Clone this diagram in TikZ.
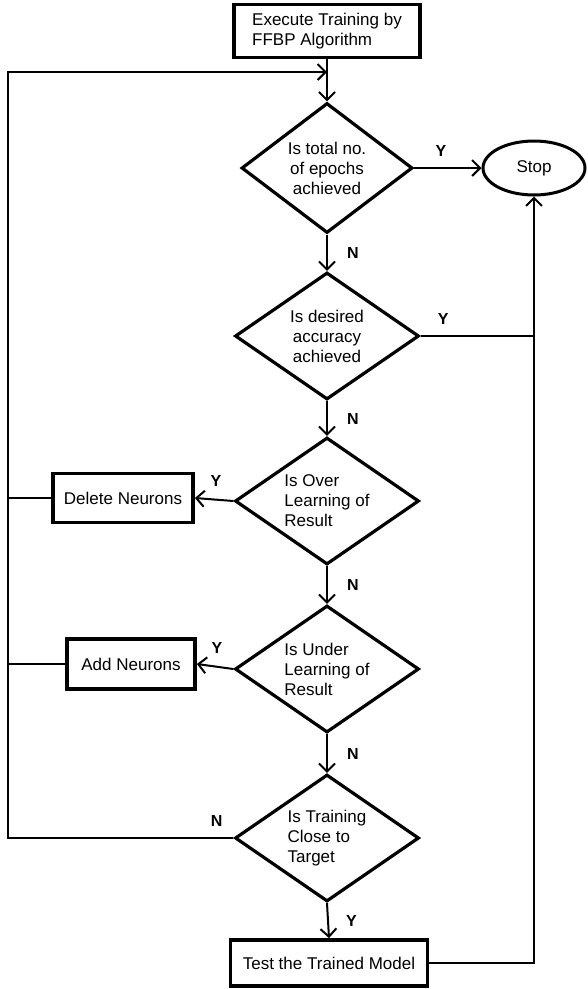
\documentclass[tikz,border=0pt]{standalone}
\usepackage{fontspec}
\setmainfont{Liberation Sans}
\usetikzlibrary{shapes.geometric, arrows.meta}

\begin{document}
\begin{tikzpicture}[x=1pt, y=-1pt, font=\fontsize{17}{20}\selectfont,
  proc/.style={rectangle, draw, line width=3.8pt, inner sep=2pt},
  dec/.style={diamond, draw, line width=3.2pt, inner sep=0pt, aspect=1.4,
              minimum width=184pt, minimum height=127pt, align=center},
  term/.style={ellipse, draw, line width=3pt, minimum width=102pt, minimum height=54pt},
  line/.style={line width=2pt},
  flow/.style={line width=2pt, -{Straight Barb[length=8pt, width=16pt]}},
  yn/.style={font=\fontsize{16}{17}\selectfont\bfseries, inner sep=0pt}]
  \useasboundingbox (0,0) rectangle (587,989);
  \node[proc, minimum width=186pt, minimum height=53pt, align=left] (train) at (327,31)
    {Execute Training by\\ FFBP Algorithm};
  \node[dec, minimum width=171pt, minimum height=130pt] (epochs) at (327,168) {Is total no.\\of epochs\\achieved};
  \node[dec] (accur) at (327,336) {Is desired\\accuracy\\achieved};
  \node[dec, align=left] (over) at (327,501) {Is Over\\Learning of\\Result};
  \node[dec, align=left] (under) at (327,669) {Is Under\\Learning of\\Result};
  \node[dec, align=left] (close) at (327,838) {Is Training\\Close to\\Target};
  \node[term] (stop) at (534,168) {Stop};
  \node[proc, minimum width=140pt, minimum height=49pt] (del) at (123,498) {Delete Neurons};
  \node[proc, minimum width=128pt, minimum height=50pt] (add) at (131,664) {Add Neurons};
  \node[proc, minimum width=197pt, minimum height=46pt] (test) at (329,963) {Test the Trained Model};
  \coordinate (back) at (8,72);
  \coordinate (join) at (327,72);

  \draw[flow] (train) -- (epochs);
  \draw[flow] (close.west) -| node[yn, pos=0.037, above=11pt]{N} (back) -- (join);
  \draw[line] (del.west) -- (del.west -| back);
  \draw[line] (add.west) -- (add.west -| back);
  \draw[flow] (epochs.east) -- node[yn, pos=0.4, above=11pt]{Y} (stop.west);
  \draw[line] (accur.east) -- node[yn, pos=0.2, above=11pt]{Y} (accur.east -| stop.south);
  \draw[flow] (test.east) -| (stop.south);
  \foreach \a/\b in {epochs/accur, accur/over, over/under, under/close}
    \draw[flow] (\a.south) -- node[yn, right=19pt]{N} (\b.north);
  \draw[flow] (close.south) -- node[yn, right=17pt]{Y} (test.north);
  \draw[flow] (over.west) -- node[yn, pos=0.45, above=12pt]{Y} (del.east);
  \draw[flow] (under.west) -- node[yn, pos=0.45, above=12pt]{Y} (add.east);
\end{tikzpicture}
\end{document}
